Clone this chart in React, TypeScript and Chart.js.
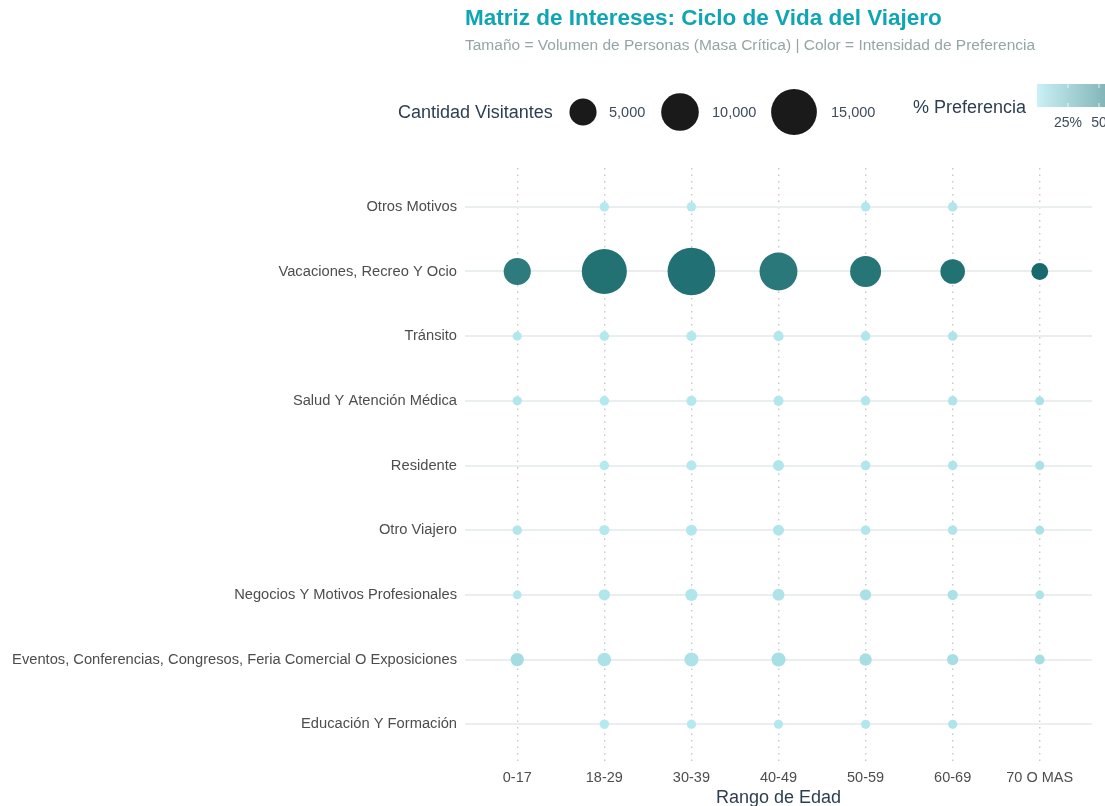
import React, { useEffect, useRef } from "react";
import { Chart, registerables } from "chart.js";

Chart.register(...registerables);

const ageGroups = ["0-17", "18-29", "30-39", "40-49", "50-59", "60-69", "70 O MAS"];
const categories = [
  "Otros Motivos",
  "Vacaciones, Recreo Y Ocio",
  "Tránsito",
  "Salud Y Atención Médica",
  "Residente",
  "Otro Viajero",
  "Negocios Y Motivos Profesionales",
  "Eventos, Conferencias, Congresos, Feria Comercial O Exposiciones",
  "Educación Y Formación",
];

// visitor counts per category (row) across age groups; null = no data
const visitorsOtros = [null, 240, 240, null, 240, 240, null];
const visitorsVacaciones = [5000, 14500, 16300, 10150, 6650, 4030, 1670];
const visitorsTransito = [180, 260, 340, 340, 260, 240, null];
const visitorsSalud = [220, 260, 340, 340, 260, 240, 160];
const visitorsResidente = [null, 240, 340, 460, 260, 240, 200];
const visitorsOtroViajero = [240, 330, 480, 480, 260, 240, 180];
const visitorsNegocios = [150, 520, 680, 640, 520, 360, 150];
const visitorsEventos = [880, 960, 1050, 1050, 720, 520, 300];
const visitorsEducacion = [null, 240, 230, 200, 200, 200, null];

// % preference within each age group
const prefOtros = [null, 1.5, 1.2, null, 2.5, 3.5, null];
const prefVacaciones = [76, 82, 83, 78, 80, 82, 87];
const prefTransito = [2.5, 1.8, 1.9, 2.8, 3.3, 4.5, null];
const prefSalud = [3, 1.8, 1.9, 2.8, 3.3, 4.5, 6];
const prefResidente = [null, 1.6, 1.9, 3.8, 3.3, 4.5, 7];
const prefOtroViajero = [3.5, 2.2, 2.6, 4, 3.3, 4.5, 6];
const prefNegocios = [2, 3.5, 3.8, 5.2, 6.5, 6.8, 5];
const prefEventos = [10, 6, 5.8, 8, 8.5, 9, 9];
const prefEducacion = [null, 1.6, 1.2, 1.8, 2.8, 4.5, null];

const visitorsRows = [
  visitorsOtros,
  visitorsVacaciones,
  visitorsTransito,
  visitorsSalud,
  visitorsResidente,
  visitorsOtroViajero,
  visitorsNegocios,
  visitorsEventos,
  visitorsEducacion,
];
const prefRows = [
  prefOtros,
  prefVacaciones,
  prefTransito,
  prefSalud,
  prefResidente,
  prefOtroViajero,
  prefNegocios,
  prefEventos,
  prefEducacion,
];

const sizeLegendValues = [5000, 10000, 15000];
const sizeLegendLabels = ["5,000", "10,000", "15,000"];
const colorLegendTicks = [25, 50];
const colorLegendLabels = ["25%", "50"];

const FONT = "'Liberation Sans', Arial, Helvetica, sans-serif";
const LOW = [182, 235, 241];
const HIGH = [20, 102, 104];
const PREF_MAX = 90;

function radiusFor(v: number) {
  return Math.sqrt(14 + 0.034 * v);
}
function colorFor(p: number) {
  const t = Math.max(0, Math.min(1, p / PREF_MAX));
  const c = LOW.map((l, i) => Math.round(l + (HIGH[i] - l) * t));
  return `rgb(${c[0]},${c[1]},${c[2]})`;
}

export default function App() {
  const ref = useRef<HTMLCanvasElement | null>(null);

  useEffect(() => {
    document.body.style.margin = "0";
    const canvas = ref.current;
    if (!canvas) return;

    const points: any[] = [];
    const colors: string[] = [];
    visitorsRows.forEach((row, ri) => {
      row.forEach((v, ci) => {
        if (v == null) return;
        points.push({ x: ci, y: ri, r: radiusFor(v) });
        colors.push(colorFor(prefRows[ri][ci] as number));
      });
    });

    const overlay = {
      id: "overlay",
      afterDraw(chart: any) {
        const ctx = chart.ctx as CanvasRenderingContext2D;
        ctx.save();
        ctx.textBaseline = "middle";
        ctx.textAlign = "left";
        // title
        ctx.fillStyle = "#0fa5b3";
        ctx.font = `bold 22.5px ${FONT}`;
        ctx.fillText("Matriz de Intereses: Ciclo de Vida del Viajero", 465, 19);
        ctx.fillStyle = "#95a5a6";
        ctx.font = `15.5px ${FONT}`;
        ctx.fillText("Tamaño = Volumen de Personas (Masa Crítica) | Color = Intensidad de Preferencia", 465, 46);

        // size legend
        ctx.fillStyle = "#2c3e50";
        ctx.font = `18px ${FONT}`;
        ctx.fillText("Cantidad Visitantes", 398, 113);
        const cx = [583, 680, 794];
        const lx = [609, 712, 831];
        sizeLegendValues.forEach((v, i) => {
          ctx.beginPath();
          ctx.arc(cx[i], 112, radiusFor(v), 0, Math.PI * 2);
          ctx.fillStyle = "#1a1a1a";
          ctx.fill();
          ctx.fillStyle = "#3d4b5a";
          ctx.font = `14.5px ${FONT}`;
          ctx.fillText(sizeLegendLabels[i], lx[i], 113);
        });

        // color legend
        ctx.fillStyle = "#2c3e50";
        ctx.font = `18px ${FONT}`;
        ctx.fillText("% Preferencia", 913, 108);
        const bx0 = 1037;
        const pxPerPct = 31 / 25;
        const bx1 = bx0 + PREF_MAX * pxPerPct;
        const grad = ctx.createLinearGradient(bx0, 0, bx1, 0);
        for (let k = 0; k <= 10; k++) {
          grad.addColorStop(k / 10, colorFor((PREF_MAX * k) / 10));
        }
        ctx.globalAlpha = 0.72;
        ctx.fillStyle = grad;
        ctx.fillRect(bx0, 84, bx1 - bx0, 23);
        ctx.globalAlpha = 1;
        ctx.strokeStyle = "rgba(255,255,255,0.8)";
        ctx.lineWidth = 1;
        colorLegendTicks.forEach((t) => {
          const x = bx0 + t * pxPerPct;
          ctx.beginPath();
          ctx.moveTo(x, 84);
          ctx.lineTo(x, 88);
          ctx.moveTo(x, 103);
          ctx.lineTo(x, 107);
          ctx.stroke();
        });
        ctx.fillStyle = "#3d4b5a";
        ctx.font = `14px ${FONT}`;
        ctx.textAlign = "center";
        colorLegendTicks.forEach((t, i) => {
          ctx.fillText(colorLegendLabels[i], bx0 + t * pxPerPct, 123);
        });
        ctx.restore();
      },
    };

    const chart = new Chart(canvas, {
      type: "bubble",
      data: {
        datasets: [
          {
            data: points,
            backgroundColor: colors,
            borderColor: colors,
            borderWidth: 0,
            hoverRadius: 0,
          } as any,
        ],
      },
      options: {
        animation: false,
        responsive: false,
        events: [],
        layout: { autoPadding: false, padding: { top: 168, right: 13, left: 0, bottom: 0 } },
        plugins: { legend: { display: false }, tooltip: { enabled: false } },
        scales: {
          x: {
            type: "linear",
            min: -0.6,
            max: 6.6,
            afterBuildTicks: (axis: any) => {
              axis.ticks = ageGroups.map((_, i) => ({ value: i }));
            },
            afterFit: (axis: any) => {
              axis.height = 43;
              axis.paddingLeft = 0;
              axis.paddingRight = 0;
            },
            border: { display: false, dash: [1.5, 5] },
            grid: {
              color: "#c8c8c8",
              lineWidth: 1.4,
              drawTicks: false,
            },
            ticks: {
              padding: 6,
              color: "#4d4d4d",
              font: { family: FONT, size: 14.5 },
              callback: (v: any) => ageGroups[v] ?? "",
              maxRotation: 0,
            },
            title: {
              display: true,
              text: "Rango de Edad",
              color: "#2c3e50",
              font: { family: FONT, size: 18 },
              padding: { top: 0, bottom: -3 },
            },
          },
          y: {
            type: "linear",
            min: -0.6,
            max: 8.6,
            reverse: true,
            afterBuildTicks: (axis: any) => {
              axis.ticks = categories.map((_, i) => ({ value: i }));
            },
            afterFit: (axis: any) => {
              axis.width = 465;
              axis.paddingTop = 0;
              axis.paddingBottom = 0;
            },
            border: { display: false },
            grid: {
              color: "#ebeeef",
              lineWidth: 2,
              drawTicks: false,
            },
            ticks: {
              padding: 8,
              color: "#4d4d4d",
              font: { family: FONT, size: 14.7 },
              callback: (v: any) => categories[v] ?? "",
            },
          },
        },
      },
      plugins: [overlay],
    } as any);

    return () => chart.destroy();
  }, []);

  return <canvas ref={ref} width={1105} height={806} style={{ display: "block" }} />;
}
